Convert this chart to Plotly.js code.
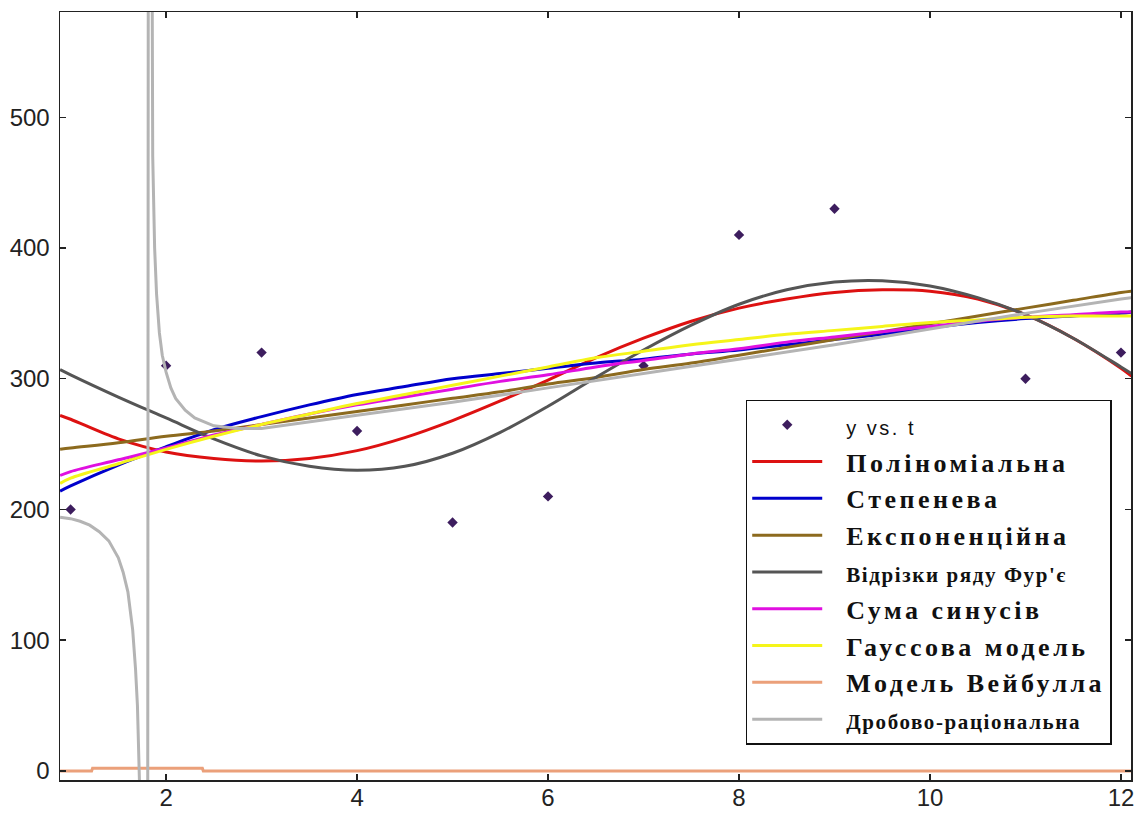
<!DOCTYPE html>
<html>
<head>
<meta charset="utf-8">
<script src="https://cdn.plot.ly/plotly-3.0.1.min.js"></script>
<style>html,body{margin:0;padding:0;background:#fff;}</style>
</head>
<body>
<div id="chart" style="width:1136px;height:813px;"></div>
<script>
// Data points
const tData = [1, 2, 3, 4, 5, 6, 7, 8, 9, 10, 11, 12];
const yData = [200, 310, 320, 260, 190, 210, 310, 410, 430, 250, 300, 320];

// Fitted curves sample grid
const tFit = [0.89, 1, 1.5, 2, 2.5, 3, 3.5, 4, 4.5, 5, 5.5, 6, 6.5, 7, 7.5, 8, 8.5, 9, 9.5, 10, 10.5, 11, 11.5, 12, 12.11];
const yPoly    = [272, 269, 254, 244, 239, 237, 239, 245, 255, 268, 283, 299, 316, 331, 344, 354, 361, 366, 368, 367, 361, 349, 331, 308, 302];
const yPower   = [214, 218, 234, 248, 261, 271, 280, 288, 294, 300, 304, 308, 312, 315, 319, 322, 326, 330, 334, 339, 343, 346, 348, 350, 351];
const yExp     = [246, 247, 251, 256, 260, 265, 270, 275, 280, 285, 290, 296, 301, 307, 312, 318, 324, 330, 336, 342, 348, 354, 360, 366, 367];
const yFourier = [307, 303, 286, 270, 254, 241, 233, 230, 233, 243, 259, 279, 301, 322, 341, 357, 368, 374, 375, 371, 362, 349, 331, 309, 304];
const ySines   = [226, 229, 238, 247, 257, 265, 273, 280, 286, 292, 298, 303, 309, 314, 319, 323, 328, 332, 336, 340, 344, 347, 349, 351, 351];
const yGauss   = [220, 224, 235, 246, 256, 265, 273, 281, 288, 295, 302, 309, 316, 321, 326, 330, 334, 337, 340, 343, 345, 347, 348, 348, 348];

const tWeibull = [0.89, 1.22, 1.23, 2.38, 2.39, 12.11];
const yWeibull = [0, 0, 2, 2, 0, 0];

const tRational = [0.89, 1.0, 1.1, 1.2, 1.3, 1.4, 1.5, 1.55, 1.6, 1.65, 1.68, 1.7, 1.72, 1.75, 1.8, 1.83, 1.85, 1.86, 1.88, 1.9, 1.93, 1.96, 2.0, 2.05, 2.1, 2.2, 2.3, 2.5, 2.75, 3, 4, 5, 6, 7, 8, 9, 10, 11, 12, 12.11];
const yRational = [194, 193, 191, 188, 183, 176, 163, 152, 137, 108, 78, 50, -5, -120, -900, 2500, 700, 470, 400, 365, 335, 318, 305, 293, 285, 276, 270, 264, 262, 262, 272, 282, 293, 304, 315, 326, 338, 350, 361, 362];

const labels = {
  data: 'y vs. t',
  poly: 'Поліноміальна',
  power: 'Степенева',
  exp: 'Експоненційна',
  fourier: 'Відрізки ряду Фур\'є',
  sines: 'Сума синусів',
  gauss: 'Гауссова модель',
  weibull: 'Модель Вейбулла',
  rational: 'Дробово-раціональна'
};

const pad = '\u00a0\u00a0';
function big(s) { return '<span style="letter-spacing:3px">' + pad + '</span><span style="letter-spacing:3.5px">' + s + '</span>'; }
function small(s) { return '<span style="letter-spacing:3px">' + pad + '</span><span style="font-size:21px;letter-spacing:1.6px">' + s + '</span>'; }
function sans(s) { return '<span style="letter-spacing:3px">' + pad + '</span><span style="font-family:Liberation Sans, Arial, sans-serif;font-weight:normal;font-size:20px;letter-spacing:2.5px">' + s + '</span>'; }

const lw = 3;
const traces = [
  {x: tData, y: yData, mode: 'markers', name: sans(labels.data),
   marker: {symbol: 'diamond', size: 8, color: '#3d1d5e'}},
  {x: tFit, y: yPoly, mode: 'lines', name: big(labels.poly), line: {color: '#dd1111', width: lw, shape: 'spline'}},
  {x: tFit, y: yPower, mode: 'lines', name: big(labels.power), line: {color: '#0000cc', width: lw, shape: 'spline'}},
  {x: tFit, y: yExp, mode: 'lines', name: big(labels.exp), line: {color: '#8c6a1e', width: lw, shape: 'spline'}},
  {x: tFit, y: yFourier, mode: 'lines', name: small(labels.fourier), line: {color: '#555555', width: lw, shape: 'spline'}},
  {x: tFit, y: ySines, mode: 'lines', name: big(labels.sines), line: {color: '#e010e0', width: lw, shape: 'spline'}},
  {x: tFit, y: yGauss, mode: 'lines', name: big(labels.gauss), line: {color: '#f5f51a', width: lw, shape: 'spline'}},
  {x: tWeibull, y: yWeibull, mode: 'lines', name: big(labels.weibull), line: {color: '#eba07a', width: lw}},
  {x: tRational, y: yRational, mode: 'lines', name: small(labels.rational), line: {color: '#b4b4b4', width: lw}}
];

const axisCommon = {
  showgrid: false, zeroline: false, showline: true, linecolor: '#222', linewidth: 1.5,
  mirror: 'ticks', ticks: 'inside', ticklen: 6, tickwidth: 1.5, tickcolor: '#222',
  tickfont: {family: 'Liberation Sans, Arial, sans-serif', size: 24, color: '#222'}
};

const layout = {
  width: 1136, height: 813,
  margin: {l: 60, r: 5, t: 12, b: 33},
  paper_bgcolor: '#fff', plot_bgcolor: '#fff',
  showlegend: true,
  xaxis: Object.assign({}, axisCommon, {range: [0.889, 12.105], tickvals: [2, 4, 6, 8, 10, 12], ticklabelstandoff: -4}),
  yaxis: Object.assign({}, axisCommon, {range: [-6.9, 580.5], tickvals: [0, 100, 200, 300, 400, 500], ticklabelstandoff: 4}),
  legend: {
    x: 0.982, xanchor: 'right', y: 0.495, yanchor: 'top',
    bgcolor: '#fff', bordercolor: '#111', borderwidth: 1.5,
    font: {family: 'Liberation Serif, Times New Roman, serif', size: 26, color: '#111', weight: 'bold'},
    itemwidth: 70, traceorder: 'normal'
  }
};

Plotly.newPlot('chart', traces, layout, {displayModeBar: false, staticPlot: true});
</script>
</body>
</html>
